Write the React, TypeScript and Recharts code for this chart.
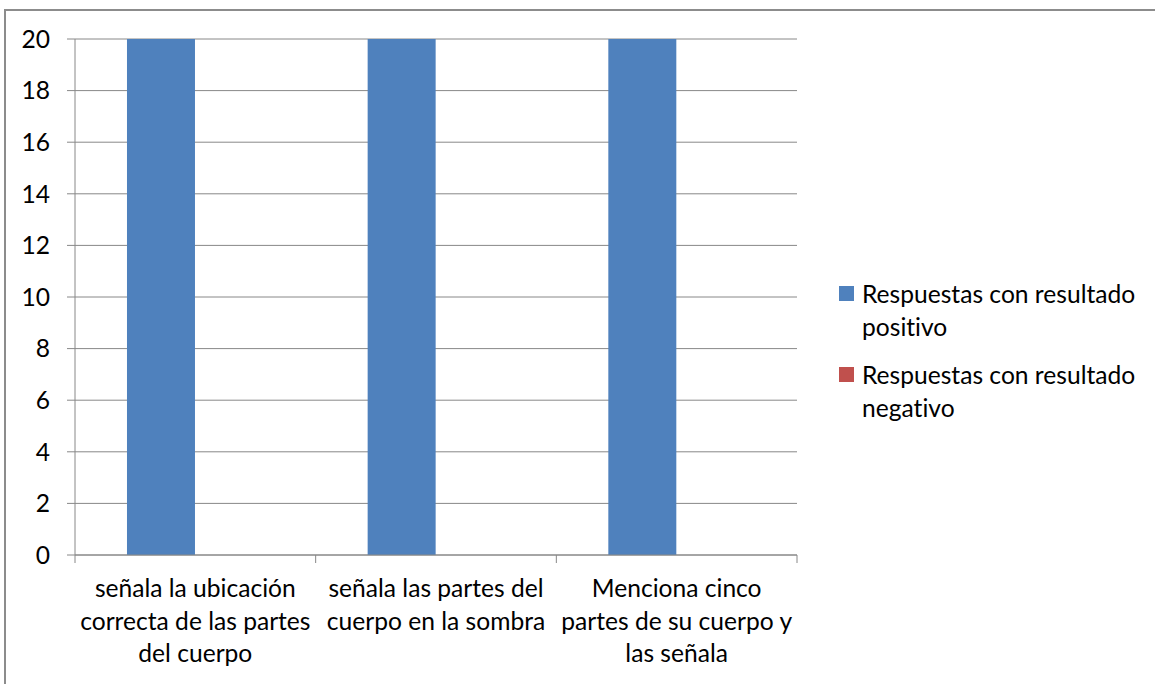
import React from "react";
import {
  BarChart,
  Bar,
  XAxis,
  YAxis,
  CartesianGrid,
  Legend,
} from "recharts";

// category labels, wrapped the same way as the original
const categoryLines: string[][] = [
  ["señala la ubicación", "correcta de las partes", "del cuerpo"],
  ["señala las partes del", "cuerpo en la sombra"],
  ["Menciona cinco", "partes de su cuerpo y", "las señala"],
];
const categories = categoryLines.map((l) => l.join(" "));

const positivos = [20, 20, 20];
const negativos = [0, 0, 0];

const seriesNames = [
  "Respuestas con resultado positivo",
  "Respuestas con resultado negativo",
];
const seriesColors = ["#4F81BD", "#C0504D"];

const yTicks = [0, 2, 4, 6, 8, 10, 12, 14, 16, 18, 20];

const data = categories.map((name, i) => ({
  name,
  positivo: positivos[i],
  negativo: negativos[i],
}));

const FONT = "Lato, 'Open Sans', sans-serif";
const FONT_SIZE = 24.6;
const AXIS_GRAY = "#888888";
const X_TICK_SIZE = 8;
const X_TICK_MARGIN = 4;

const CategoryTick = (props: any) => {
  const { x, y, payload, index } = props;
  const half = payload?.offset ?? 0;
  const axisY = y - X_TICK_SIZE - X_TICK_MARGIN;
  const lines = categoryLines[index] ?? [String(payload.value)];
  return (
    <g>
      <line
        x1={x - half}
        y1={axisY}
        x2={x - half}
        y2={axisY + X_TICK_SIZE}
        stroke={AXIS_GRAY}
      />
      {index === categories.length - 1 && (
        <line
          x1={x + half}
          y1={axisY}
          x2={x + half}
          y2={axisY + X_TICK_SIZE}
          stroke={AXIS_GRAY}
        />
      )}
      <text
        x={x}
        y={axisY + 42}
        textAnchor="middle"
        fontSize={FONT_SIZE}
        fontFamily={FONT}
        fill="#000"
        style={{ fontVariantLigatures: "none" }}
      >
        {lines.map((l, i) => (
          <tspan key={i} x={x} dy={i === 0 ? 0 : 32.5}>
            {l}
          </tspan>
        ))}
      </text>
    </g>
  );
};

const renderLegend = () => (
  <div
    style={{
      fontFamily: FONT,
      fontSize: FONT_SIZE,
      lineHeight: "33px",
      color: "#000",
      fontVariantLigatures: "none",
    }}
  >
    {seriesNames.map((name, i) => (
      <div
        key={name}
        style={{ display: "flex", alignItems: "flex-start", marginBottom: 15 }}
      >
        <span
          style={{
            display: "inline-block",
            width: 15,
            height: 15,
            marginTop: 9,
            marginRight: 8,
            background: seriesColors[i],
            flex: "none",
          }}
        />
        <span style={{ width: 290 }}>{name}</span>
      </div>
    ))}
  </div>
);

export default function App() {
  return (
    <div
      style={{
        position: "absolute",
        left: 0,
        top: 0,
        width: 1155,
        height: 684,
        overflow: "hidden",
        background: "#fff",
      }}
    >
      <div
        style={{
          position: "absolute",
          left: 4,
          top: 9,
          width: 1300,
          height: 900,
          border: "2px solid #8c8c8c",
        }}
      />
      <BarChart
        width={1155}
        height={684}
        data={data}
        margin={{ top: 39, right: 43, left: 0, bottom: 0 }}
        barCategoryGap="21.6%"
        barGap={0}
        style={{ position: "absolute", left: 0, top: 0 }}
      >
        <CartesianGrid vertical={false} stroke={AXIS_GRAY} />
        <XAxis
          dataKey="name"
          height={129}
          axisLine={{ stroke: AXIS_GRAY }}
          tickLine={false}
          tickSize={X_TICK_SIZE}
          tickMargin={X_TICK_MARGIN}
          interval={0}
          tick={<CategoryTick />}
        />
        <YAxis
          width={75}
          domain={[0, 20]}
          ticks={yTicks}
          interval={0}
          axisLine={{ stroke: AXIS_GRAY }}
          tickLine={{ stroke: AXIS_GRAY }}
          tickSize={8}
          tickMargin={17}
          tick={{ fill: "#000", fontSize: FONT_SIZE, fontFamily: FONT }}
        />
        <Legend
          layout="vertical"
          align="right"
          verticalAlign="top"
          wrapperStyle={{ left: 839, top: 277, width: 315 }}
          content={renderLegend}
        />
        <Bar
          dataKey="positivo"
          name={seriesNames[0]}
          fill={seriesColors[0]}
          isAnimationActive={false}
        />
        <Bar
          dataKey="negativo"
          name={seriesNames[1]}
          fill={seriesColors[1]}
          isAnimationActive={false}
        />
      </BarChart>
    </div>
  );
}
